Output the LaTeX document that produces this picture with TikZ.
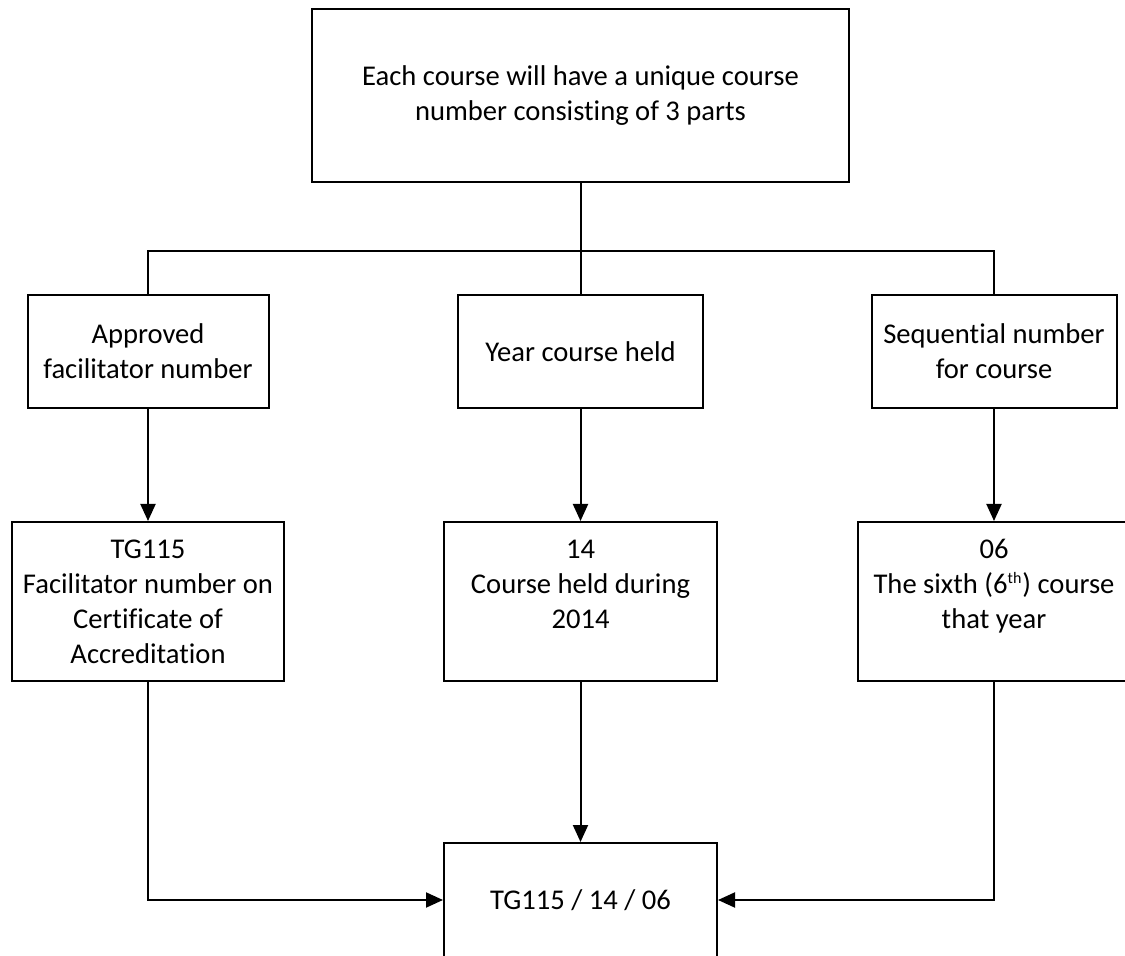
\documentclass[tikz,border=0pt]{standalone}
\usepackage{fontspec}
\setmainfont{Carlito}[Ligatures={NoCommon}]
\usepackage{tikz}
\usetikzlibrary{arrows.meta, positioning, calc}

\begin{document}
\begin{tikzpicture}[
  x=0.5pt, y=-0.5pt,
  box/.style={draw, line width=1pt, align=center, inner sep=0pt,
              font=\fontsize{14.3pt}{17.5pt}\selectfont},
  arr/.style={-{Triangle[length=8.5pt, width=7.5pt]}, line width=1pt},
  line/.style={line width=1pt},
]
  \useasboundingbox (0,0) rectangle (1125,956);

  % ── Row 0: heading ──
  \node[box, minimum width=268.5pt, minimum height=86.5pt] (head) at (580.5, 95.5)
    {Each course will have a unique course\\number consisting of 3 parts};

  % ── Row 1: the three parts ──
  \node[box, minimum width=120.5pt, minimum height=56.5pt] (fac)  at (148, 351.5)
    {Approved\\facilitator number};
  \node[box, minimum width=122.5pt, minimum height=56.5pt] (year) at (580.5, 351.5)
    {Year course held};
  \node[box, minimum width=122.5pt, minimum height=56.5pt] (seq)  at (994, 351.5)
    {Sequential number\\for course};

  % ── Row 2: examples ──
  \node[box, minimum width=136pt, minimum height=79.5pt] (facx)  at (148, 601.5)
    {TG115\\Facilitator number on\\Certificate of\\Accreditation};
  \node[box, minimum width=136.5pt, minimum height=79.5pt] (yearx) at (580.5, 601.5)
    {14\\Course held during\\2014\\\mbox{}};
  \node[box, minimum width=136pt, minimum height=79.5pt] (seqx)  at (994, 601.5)
    {06\\The sixth ({\fontsize{14.3pt}{17.5pt}\selectfont 6}\textsuperscript{\fontsize{8pt}{8pt}\selectfont th}) course\\that year\\\mbox{}};

  % ── Row 3: full number ──
  \node[box, minimum width=136.5pt, minimum height=57pt] (full) at (580.5, 900)
    {TG115 / 14 / 06};

  % ══ Connectors ══
  \coordinate (bus) at (580.5, 251);
  \draw[line] (head.south) -- (bus);
  \draw[line] (bus) -| (fac.north);
  \draw[line] (bus) -- (year.north);
  \draw[line] (bus) -| (seq.north);

  % parts → examples
  \draw[arr] (fac.south)  -- (facx.north);
  \draw[arr] (year.south) -- (yearx.north);
  \draw[arr] (seq.south)  -- (seqx.north);

  % examples → full number
  \draw[arr] (facx.south)  |- (full.west);
  \draw[arr] (yearx.south) -- (full.north);
  \draw[arr] (seqx.south)  |- (full.east);

\end{tikzpicture}
\end{document}
